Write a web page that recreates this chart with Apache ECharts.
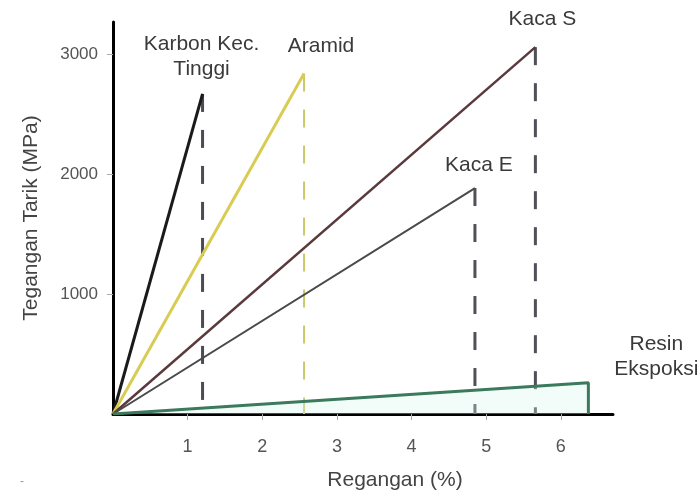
<!DOCTYPE html>
<html><head><meta charset="utf-8">
<script src="https://cdn.jsdelivr.net/npm/echarts@6/dist/echarts.min.js"></script>
<style>html,body{margin:0;padding:0;background:#fff}#c{width:700px;height:496px}</style>
</head><body><div id="c"></div>
<script>
const materials = ['Karbon Kec.\nTinggi', 'Aramid', 'Kaca S', 'Kaca E', 'Resin\nEkspoksi'];
const failStrain = [1.2, 2.56, 5.66, 4.85, 6.37];   // %
const failStress = [2670, 2840, 3060, 1885, 260];   // MPa
const xTicks = [1, 2, 3, 4, 5, 6];
const yTicks = [1000, 2000, 3000];

const lineColors = ['#1a1a1a', '#d9cc55', '#5a3a3c', '#4a4a4a', '#3b7a5c'];
const lineWidths = [3, 3, 2.5, 2, 3];
const dashColors = ['#4a4b55', '#c9c96a', '#505058', '#505058', null];
// label centre offsets (px) from each failure point
const labelOffsets = [[-1, -37], [17, -27], [7, -28], [4, -23], [68, -26]];
const FONT = 'Liberation Sans, Arial, sans-serif';

const series = [];
materials.forEach((m, i) => {
  const pts = [[0, 0], [failStrain[i], failStress[i]]];
  if (i === 4) pts.push([failStrain[i], 0]);
  series.push({
    type: 'line', name: m, data: pts,
    symbol: 'none', z: 3,
    lineStyle: { color: lineColors[i], width: lineWidths[i] },
    areaStyle: i === 4 ? { color: 'rgba(215,245,232,0.45)' } : undefined
  });
  if (dashColors[i]) {
    series.push({
      type: 'line', data: [[failStrain[i], failStress[i]], [failStrain[i], 0]],
      symbol: 'none', z: 2,
      lineStyle: { color: dashColors[i], width: i === 1 ? 2 : 3, type: [18, 18] }
    });
  }
});

const chart = echarts.init(document.getElementById('c'));
chart.setOption({
  animation: false,
  backgroundColor: '#fff',
  grid: { left: 113, right: 87, top: 22, bottom: 78 },
  xAxis: {
    type: 'value', min: 0, max: 6.7,
    name: 'Regangan (%)', nameLocation: 'middle', nameGap: 56,
    nameTextStyle: { color: '#444', fontSize: 21, fontFamily: FONT, padding: [0, 0, 0, 64] },
    axisLine: { show: true, lineStyle: { color: '#000', width: 3 } },
    axisTick: { show: true, customValues: xTicks, length: 6, lineStyle: { color: '#aaa', width: 1 } },
    axisLabel: { customValues: xTicks, color: '#555', fontSize: 18, margin: 24, fontFamily: FONT },
    splitLine: { show: false }
  },
  yAxis: {
    type: 'value', min: 0, max: 3270,
    name: 'Tegangan Tarik (MPa)', nameLocation: 'middle', nameGap: 71,
    nameTextStyle: { color: '#444', fontSize: 21, fontFamily: FONT },
    axisLine: { show: true, lineStyle: { color: '#000', width: 3 } },
    axisTick: { show: true, customValues: yTicks, length: 6, lineStyle: { color: '#aaa', width: 1 } },
    axisLabel: { customValues: yTicks, color: '#555', fontSize: 17, margin: 15, fontFamily: FONT,
      formatter: v => String(v) },
    splitLine: { show: false }
  },
  series: series
});

const graphics = [{ type: 'text', left: 20, top: 476, style: { text: '-', fill: '#999', fontSize: 12 } }];
materials.forEach((m, i) => {
  const p = chart.convertToPixel({ gridIndex: 0 }, [failStrain[i], failStress[i]]);
  graphics.push({
    type: 'text', x: p[0] + labelOffsets[i][0], y: p[1] + labelOffsets[i][1], z: 10,
    style: { text: m, fill: '#3a3a3a', fontSize: 21, lineHeight: 25, fontFamily: FONT,
      align: 'center', verticalAlign: 'middle' }
  });
});
chart.setOption({ graphic: graphics });
</script></body></html>
